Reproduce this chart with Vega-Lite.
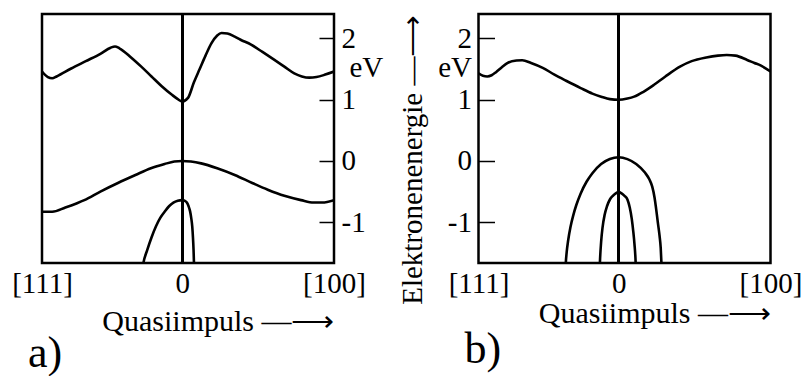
{
  "$schema": "https://vega.github.io/schema/vega-lite/v6.json",
  "background": "white",
  "padding": {"left": 10, "top": 11, "right": 5, "bottom": 0},
  "bounds": "flush",
  "spacing": 144.5,
  "config": {
    "font": "Liberation Serif",
    "view": {"stroke": "black", "strokeWidth": 2.5},
    "axis": {
      "grid": false, "domain": false, "labelOverlap": false,
      "labelFont": "Liberation Serif", "labelFontSize": 29, "labelColor": "black",
      "titleFont": "Liberation Serif", "titleFontSize": 29, "titleFontWeight": "normal", "titleColor": "black",
      "tickColor": "black", "tickWidth": 1.5
    }
  },
  "datasets": {
    "bands": [
      {"panel": "a", "band": "cb", "u": -48, "v": 1.46},
      {"panel": "a", "band": "cb", "u": -46, "v": 1.37},
      {"panel": "a", "band": "cb", "u": -44.5, "v": 1.35},
      {"panel": "a", "band": "cb", "u": -43, "v": 1.38},
      {"panel": "a", "band": "cb", "u": -38, "v": 1.51},
      {"panel": "a", "band": "cb", "u": -33, "v": 1.63},
      {"panel": "a", "band": "cb", "u": -28, "v": 1.75},
      {"panel": "a", "band": "cb", "u": -24.5, "v": 1.85},
      {"panel": "a", "band": "cb", "u": -23, "v": 1.87},
      {"panel": "a", "band": "cb", "u": -21.5, "v": 1.84},
      {"panel": "a", "band": "cb", "u": -17.5, "v": 1.69},
      {"panel": "a", "band": "cb", "u": -14, "v": 1.54},
      {"panel": "a", "band": "cb", "u": -10.5, "v": 1.38},
      {"panel": "a", "band": "cb", "u": -7, "v": 1.22},
      {"panel": "a", "band": "cb", "u": -3.5, "v": 1.08},
      {"panel": "a", "band": "cb", "u": -1.5, "v": 1.01},
      {"panel": "a", "band": "cb", "u": 0, "v": 0.97},
      {"panel": "a", "band": "cb", "u": 2, "v": 1.03},
      {"panel": "a", "band": "cb", "u": 4, "v": 1.28},
      {"panel": "a", "band": "cb", "u": 6, "v": 1.5},
      {"panel": "a", "band": "cb", "u": 8, "v": 1.72},
      {"panel": "a", "band": "cb", "u": 10, "v": 1.92},
      {"panel": "a", "band": "cb", "u": 12, "v": 2.05},
      {"panel": "a", "band": "cb", "u": 13.5, "v": 2.09},
      {"panel": "a", "band": "cb", "u": 15.5, "v": 2.08},
      {"panel": "a", "band": "cb", "u": 18, "v": 2.03},
      {"panel": "a", "band": "cb", "u": 20, "v": 1.98},
      {"panel": "a", "band": "cb", "u": 23.6, "v": 1.9},
      {"panel": "a", "band": "cb", "u": 27.5, "v": 1.78},
      {"panel": "a", "band": "cb", "u": 31.6, "v": 1.65},
      {"panel": "a", "band": "cb", "u": 35, "v": 1.54},
      {"panel": "a", "band": "cb", "u": 38.4, "v": 1.43},
      {"panel": "a", "band": "cb", "u": 41, "v": 1.38},
      {"panel": "a", "band": "cb", "u": 43.5, "v": 1.36},
      {"panel": "a", "band": "cb", "u": 46, "v": 1.37},
      {"panel": "a", "band": "cb", "u": 49, "v": 1.41},
      {"panel": "a", "band": "cb", "u": 52, "v": 1.46},

      {"panel": "a", "band": "vb", "u": -48, "v": -0.83},
      {"panel": "a", "band": "vb", "u": -44.5, "v": -0.83},
      {"panel": "a", "band": "vb", "u": -40, "v": -0.76},
      {"panel": "a", "band": "vb", "u": -36, "v": -0.69},
      {"panel": "a", "band": "vb", "u": -33.5, "v": -0.64},
      {"panel": "a", "band": "vb", "u": -28, "v": -0.5},
      {"panel": "a", "band": "vb", "u": -22, "v": -0.36},
      {"panel": "a", "band": "vb", "u": -16, "v": -0.23},
      {"panel": "a", "band": "vb", "u": -10.7, "v": -0.12},
      {"panel": "a", "band": "vb", "u": -6, "v": -0.05},
      {"panel": "a", "band": "vb", "u": -2.7, "v": -0.01},
      {"panel": "a", "band": "vb", "u": 0, "v": 0},
      {"panel": "a", "band": "vb", "u": 3, "v": -0.01},
      {"panel": "a", "band": "vb", "u": 6.5, "v": -0.04},
      {"panel": "a", "band": "vb", "u": 12, "v": -0.12},
      {"panel": "a", "band": "vb", "u": 18, "v": -0.23},
      {"panel": "a", "band": "vb", "u": 24, "v": -0.36},
      {"panel": "a", "band": "vb", "u": 29.3, "v": -0.47},
      {"panel": "a", "band": "vb", "u": 35, "v": -0.57},
      {"panel": "a", "band": "vb", "u": 40.7, "v": -0.64},
      {"panel": "a", "band": "vb", "u": 45, "v": -0.68},
      {"panel": "a", "band": "vb", "u": 48, "v": -0.68},
      {"panel": "a", "band": "vb", "u": 52, "v": -0.64},

      {"panel": "a", "band": "so", "u": -13.9, "v": -1.85},
      {"panel": "a", "band": "so", "u": -13.3, "v": -1.67},
      {"panel": "a", "band": "so", "u": -12, "v": -1.46},
      {"panel": "a", "band": "so", "u": -10.5, "v": -1.25},
      {"panel": "a", "band": "so", "u": -9, "v": -1.07},
      {"panel": "a", "band": "so", "u": -7.5, "v": -0.93},
      {"panel": "a", "band": "so", "u": -6, "v": -0.83},
      {"panel": "a", "band": "so", "u": -4.5, "v": -0.74},
      {"panel": "a", "band": "so", "u": -3, "v": -0.68},
      {"panel": "a", "band": "so", "u": -1.5, "v": -0.65},
      {"panel": "a", "band": "so", "u": 0, "v": -0.64},
      {"panel": "a", "band": "so", "u": 0.8, "v": -0.65},
      {"panel": "a", "band": "so", "u": 1.6, "v": -0.68},
      {"panel": "a", "band": "so", "u": 2.2, "v": -0.74},
      {"panel": "a", "band": "so", "u": 2.7, "v": -0.82},
      {"panel": "a", "band": "so", "u": 3.1, "v": -0.93},
      {"panel": "a", "band": "so", "u": 3.45, "v": -1.07},
      {"panel": "a", "band": "so", "u": 3.7, "v": -1.25},
      {"panel": "a", "band": "so", "u": 3.9, "v": -1.45},
      {"panel": "a", "band": "so", "u": 4.05, "v": -1.67},
      {"panel": "a", "band": "so", "u": 4.15, "v": -1.85},

      {"panel": "b", "band": "cb", "u": -48, "v": 1.43},
      {"panel": "b", "band": "cb", "u": -46.5, "v": 1.39},
      {"panel": "b", "band": "cb", "u": -45, "v": 1.38},
      {"panel": "b", "band": "cb", "u": -43.5, "v": 1.4},
      {"panel": "b", "band": "cb", "u": -42, "v": 1.45},
      {"panel": "b", "band": "cb", "u": -40, "v": 1.53},
      {"panel": "b", "band": "cb", "u": -38, "v": 1.6},
      {"panel": "b", "band": "cb", "u": -35, "v": 1.64},
      {"panel": "b", "band": "cb", "u": -33, "v": 1.645},
      {"panel": "b", "band": "cb", "u": -30, "v": 1.6},
      {"panel": "b", "band": "cb", "u": -26, "v": 1.52},
      {"panel": "b", "band": "cb", "u": -22, "v": 1.41},
      {"panel": "b", "band": "cb", "u": -18, "v": 1.31},
      {"panel": "b", "band": "cb", "u": -13, "v": 1.19},
      {"panel": "b", "band": "cb", "u": -9, "v": 1.1},
      {"panel": "b", "band": "cb", "u": -6, "v": 1.05},
      {"panel": "b", "band": "cb", "u": -3, "v": 1.01},
      {"panel": "b", "band": "cb", "u": 0, "v": 1.0},
      {"panel": "b", "band": "cb", "u": 3, "v": 1.02},
      {"panel": "b", "band": "cb", "u": 5.3, "v": 1.05},
      {"panel": "b", "band": "cb", "u": 8.5, "v": 1.13},
      {"panel": "b", "band": "cb", "u": 12, "v": 1.24},
      {"panel": "b", "band": "cb", "u": 16, "v": 1.38},
      {"panel": "b", "band": "cb", "u": 21, "v": 1.54},
      {"panel": "b", "band": "cb", "u": 25, "v": 1.63},
      {"panel": "b", "band": "cb", "u": 30, "v": 1.69},
      {"panel": "b", "band": "cb", "u": 34, "v": 1.72},
      {"panel": "b", "band": "cb", "u": 37, "v": 1.73},
      {"panel": "b", "band": "cb", "u": 40, "v": 1.72},
      {"panel": "b", "band": "cb", "u": 44, "v": 1.65},
      {"panel": "b", "band": "cb", "u": 46.5, "v": 1.6},
      {"panel": "b", "band": "cb", "u": 48.6, "v": 1.56},
      {"panel": "b", "band": "cb", "u": 52, "v": 1.46},

      {"panel": "b", "band": "hh", "u": -18.25, "v": -1.85},
      {"panel": "b", "band": "hh", "u": -18.1, "v": -1.67},
      {"panel": "b", "band": "hh", "u": -17.8, "v": -1.49},
      {"panel": "b", "band": "hh", "u": -17.3, "v": -1.3},
      {"panel": "b", "band": "hh", "u": -16.5, "v": -1.08},
      {"panel": "b", "band": "hh", "u": -15.5, "v": -0.88},
      {"panel": "b", "band": "hh", "u": -14.5, "v": -0.72},
      {"panel": "b", "band": "hh", "u": -13, "v": -0.53},
      {"panel": "b", "band": "hh", "u": -11, "v": -0.34},
      {"panel": "b", "band": "hh", "u": -9, "v": -0.2},
      {"panel": "b", "band": "hh", "u": -6, "v": -0.05},
      {"panel": "b", "band": "hh", "u": -3, "v": 0.033},
      {"panel": "b", "band": "hh", "u": 0, "v": 0.06},
      {"panel": "b", "band": "hh", "u": 3, "v": 0.03},
      {"panel": "b", "band": "hh", "u": 6, "v": -0.05},
      {"panel": "b", "band": "hh", "u": 9, "v": -0.19},
      {"panel": "b", "band": "hh", "u": 10.5, "v": -0.3},
      {"panel": "b", "band": "hh", "u": 11.5, "v": -0.42},
      {"panel": "b", "band": "hh", "u": 12.3, "v": -0.6},
      {"panel": "b", "band": "hh", "u": 12.8, "v": -0.77},
      {"panel": "b", "band": "hh", "u": 13.4, "v": -1.0},
      {"panel": "b", "band": "hh", "u": 14, "v": -1.22},
      {"panel": "b", "band": "hh", "u": 14.4, "v": -1.42},
      {"panel": "b", "band": "hh", "u": 14.65, "v": -1.67},
      {"panel": "b", "band": "hh", "u": 14.8, "v": -1.85},

      {"panel": "b", "band": "lh", "u": -6.55, "v": -1.85},
      {"panel": "b", "band": "lh", "u": -6.4, "v": -1.64},
      {"panel": "b", "band": "lh", "u": -6, "v": -1.32},
      {"panel": "b", "band": "lh", "u": -5.5, "v": -1.08},
      {"panel": "b", "band": "lh", "u": -4.8, "v": -0.88},
      {"panel": "b", "band": "lh", "u": -4, "v": -0.74},
      {"panel": "b", "band": "lh", "u": -3, "v": -0.63},
      {"panel": "b", "band": "lh", "u": -2, "v": -0.57},
      {"panel": "b", "band": "lh", "u": -1, "v": -0.53},
      {"panel": "b", "band": "lh", "u": 0, "v": -0.51},
      {"panel": "b", "band": "lh", "u": 1, "v": -0.53},
      {"panel": "b", "band": "lh", "u": 2, "v": -0.57},
      {"panel": "b", "band": "lh", "u": 3, "v": -0.63},
      {"panel": "b", "band": "lh", "u": 3.8, "v": -0.76},
      {"panel": "b", "band": "lh", "u": 4.5, "v": -0.95},
      {"panel": "b", "band": "lh", "u": 5, "v": -1.15},
      {"panel": "b", "band": "lh", "u": 5.4, "v": -1.35},
      {"panel": "b", "band": "lh", "u": 5.8, "v": -1.64},
      {"panel": "b", "band": "lh", "u": 5.95, "v": -1.85}
    ]
  },
  "hconcat": [
    {
      "width": 292,
      "height": 249,
      "title": {"text": "a)", "orient": "bottom", "anchor": "start", "frame": "group", "fontSize": 44, "fontWeight": "normal", "font": "Liberation Serif", "color": "black", "dx": -14, "offset": -4},
      "data": {"name": "bands"},
      "transform": [{"filter": "datum.panel == 'a'"}],
      "layer": [
        {
          "mark": {"type": "line", "interpolate": "monotone", "clip": true, "color": "black", "strokeWidth": 2.6},
          "encoding": {
            "x": {
              "field": "u", "type": "quantitative",
              "scale": {"domain": [-48, 52], "nice": false, "zero": false},
              "axis": {"values": [-48, 0, 52], "labelExpr": "datum.value < -1 ? '[111]' : datum.value > 1 ? '[100]' : '0'", "ticks": false, "labelFlush": false, "labelPadding": 6, "title": "Quasiimpuls —⟶", "titleFontSize": 30, "titleAnchor": "end", "titlePadding": 8}
            },
            "y": {
              "field": "v", "type": "quantitative",
              "scale": {"domain": [-1.667, 2.4], "nice": false, "zero": false},
              "axis": {"orient": "right", "values": [-1, 0, 1, 1.52, 2], "labelExpr": "datum.value == 1.52 ? 'eV' : datum.value == -1 ? '-1' : datum.label", "tickSize": -15, "labelPadding": {"condition": {"test": "datum.value == 1.52", "value": 30}, "value": 22}, "tickOpacity": {"condition": {"test": "datum.value == 1.52", "value": 0}, "value": 1}, "labelAlign": "left", "labelBaseline": "middle", "title": null}
            },
            "detail": {"field": "band"},
            "order": {"field": "u"}
          }
        },
        {
          "mark": {"type": "rule", "color": "black", "strokeWidth": 2},
          "encoding": {"x": {"datum": 0}}
        }
      ]
    },
    {
      "width": 292,
      "height": 249,
      "title": {"text": "b)", "orient": "bottom", "anchor": "start", "frame": "group", "fontSize": 44, "fontWeight": "normal", "font": "Liberation Serif", "color": "black", "dx": -14, "offset": 0},
      "data": {"name": "bands"},
      "transform": [{"filter": "datum.panel == 'b'"}],
      "layer": [
        {
          "mark": {"type": "line", "interpolate": "monotone", "clip": true, "color": "black", "strokeWidth": 2.6},
          "encoding": {
            "x": {
              "field": "u", "type": "quantitative",
              "scale": {"domain": [-48, 52], "nice": false, "zero": false},
              "axis": {"values": [-48, 0, 52], "labelExpr": "datum.value < -1 ? '[111]' : datum.value > 1 ? '[100]' : '0'", "ticks": false, "labelFlush": false, "labelPadding": 6, "title": "Quasiimpuls —⟶", "titleFontSize": 30, "titleAnchor": "end", "titlePadding": 0}
            },
            "y": {
              "field": "v", "type": "quantitative",
              "scale": {"domain": [-1.667, 2.4], "nice": false, "zero": false},
              "axis": {"orient": "left", "values": [-1, 0, 1, 1.52, 2], "labelExpr": "datum.value == 1.52 ? 'eV' : datum.value == -1 ? '-1' : datum.label", "tickSize": -16, "labelPadding": 23, "tickOpacity": {"condition": {"test": "datum.value == 1.52", "value": 0}, "value": 1}, "labelAlign": "right", "labelBaseline": "middle", "title": "Elektronenenergie  —⟶", "titleAnchor": "end", "titlePadding": 10}
            },
            "detail": {"field": "band"},
            "order": {"field": "u"}
          }
        },
        {
          "mark": {"type": "rule", "color": "black", "strokeWidth": 2},
          "encoding": {"x": {"datum": 0}}
        }
      ]
    }
  ]
}
